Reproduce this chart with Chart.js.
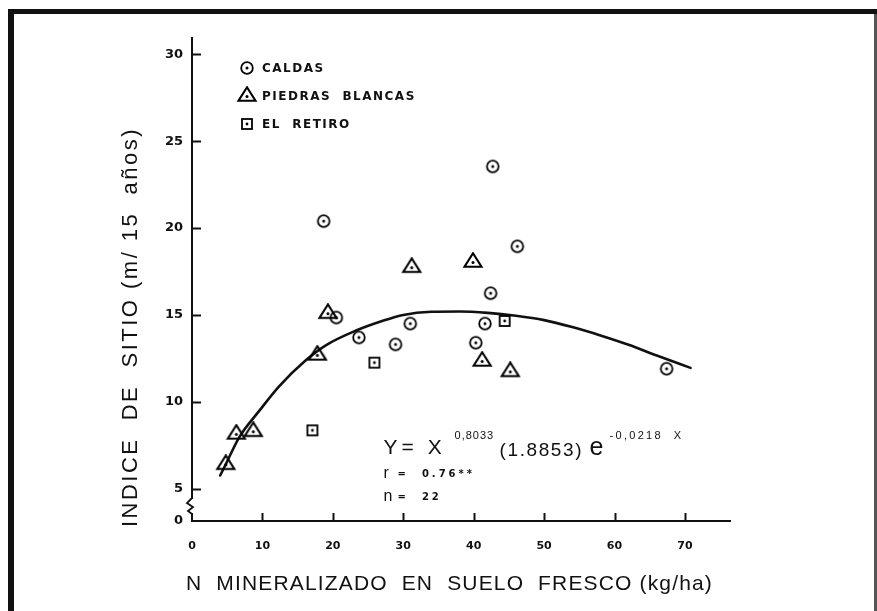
<!DOCTYPE html>
<html>
<head>
<meta charset="utf-8">
<script src="https://cdn.jsdelivr.net/npm/chart.js@4.4.1/dist/chart.umd.min.js"></script>
<style>
  html, body { margin: 0; padding: 0; background: #fff; }
  canvas { display: block; }
</style>
</head>
<body>
<canvas id="grafiek" width="877" height="611"></canvas>
<script>
// Valores: N mineralizado (kg/ha) contra indice de sitio
const caldasX = [18.7, 42.7, 46.2, 42.4, 20.5, 23.7, 28.9, 31.0, 41.6, 40.3, 67.4];
const caldasY = [20.4, 23.55, 18.95, 16.25, 14.85, 13.7, 13.3, 14.5, 14.5, 13.4, 11.9];
const piedrasX = [4.8, 6.3, 8.7, 17.8, 19.3, 31.2, 39.9, 41.2, 45.2];
const piedrasY = [6.4, 8.15, 8.3, 12.7, 15.1, 17.75, 18.05, 12.35, 11.75];
const retiroX = [17.1, 25.9, 44.4];
const retiroY = [8.35, 12.25, 14.65];

// curva ajustada, puntos tomados sobre el trazo
const curvaX = [4.0, 4.8, 6.7, 9.6, 12.4, 16.2, 19.0, 23.3, 27.0, 30.0, 34.0, 38.0, 42.0, 46.0, 50.0, 54.0, 58.0, 62.0, 66.0, 70.8];
const curvaY = [5.75, 6.4, 7.95, 9.5, 10.9, 12.4, 13.25, 14.1, 14.65, 15.0, 15.18, 15.2, 15.12, 14.95, 14.7, 14.3, 13.82, 13.28, 12.66, 11.95];

const xTicks = [0, 10, 20, 30, 40, 50, 60, 70];
const yTicks = [0, 5, 10, 15, 20, 25, 30];

const tinta = '#111';

function puntos(xs, ys) {
    return xs.map((x, i) => ({ x: x, y: ys[i] }));
}

// marcadores con punto central, como en el original
function marcador(tipo) {
    const c = document.createElement('canvas');
    const g = c.getContext('2d');
    g.strokeStyle = tinta;
    g.fillStyle = tinta;
    if (tipo === 'circulo') {
        c.width = 16; c.height = 16;
        g.lineWidth = 1.8;
        g.beginPath(); g.arc(8, 8, 5.8, 0, Math.PI * 2); g.stroke();
        g.beginPath(); g.arc(8, 8, 1.5, 0, Math.PI * 2); g.fill();
    } else if (tipo === 'triangulo') {
        c.width = 22; c.height = 20;
        g.lineWidth = 2.1;
        g.beginPath();
        g.moveTo(11, 1.3); g.lineTo(2.5, 14.8); g.lineTo(19.5, 14.8); g.closePath();
        g.stroke();
        g.beginPath(); g.arc(11, 10.4, 1.5, 0, Math.PI * 2); g.fill();
    } else {
        c.width = 14; c.height = 14;
        g.lineWidth = 1.8;
        g.strokeRect(2, 2, 10, 10);
        g.beginPath(); g.arc(7, 7, 1.4, 0, Math.PI * 2); g.fill();
    }
    return c;
}

const mCirculo = marcador('circulo');
const mTriangulo = marcador('triangulo');
const mCuadro = marcador('cuadro');

function texto(ctx, s, x, y, font, spacing) {
    ctx.font = font;
    ctx.letterSpacing = (spacing || 0) + 'px';
    ctx.fillText(s, x, y);
    return ctx.measureText(s).width;
}

function espaciado(ctx, s, font, ancho) {
    ctx.font = font;
    ctx.letterSpacing = '0px';
    return (ancho - ctx.measureText(s).width) / s.length;
}

const dibujo = {
    id: 'dibujo',
    beforeDraw(chart) {
        const { ctx, width, height } = chart;
        ctx.save();
        ctx.fillStyle = '#fff';
        ctx.fillRect(0, 0, width, height);
        ctx.fillStyle = tinta;
        ctx.fillRect(8, 9, width - 8, 5);
        ctx.fillRect(8, 9, 6, height - 9);
        ctx.fillStyle = '#555';
        ctx.fillRect(width - 3, 14, 3, height - 14);
        ctx.restore();
    },
    afterDraw(chart) {
        const { ctx, chartArea } = chart;
        const xs = chart.scales.x;
        const ys = chart.scales.y;
        const izq = chartArea.left, abajo = chartArea.bottom;
        ctx.save();
        ctx.strokeStyle = tinta;
        ctx.fillStyle = tinta;
        ctx.lineWidth = 2;

        // marcas hacia dentro
        yTicks.forEach(v => {
            if (v === 0) return;
            const y = Math.round(ys.getPixelForValue(v)) + 0.5;
            ctx.beginPath(); ctx.moveTo(izq, y); ctx.lineTo(izq + 9, y); ctx.stroke();
        });
        xTicks.forEach(v => {
            if (v === 0) return;
            const x = Math.round(xs.getPixelForValue(v)) + 0.5;
            ctx.beginPath(); ctx.moveTo(x, abajo); ctx.lineTo(x, abajo - 8); ctx.stroke();
        });

        // corte del eje y
        ctx.fillStyle = '#fff';
        ctx.fillRect(izq - 2, abajo - 22, 4, 14);
        ctx.fillStyle = tinta;
        ctx.lineWidth = 1.8;
        ctx.beginPath();
        ctx.moveTo(izq, abajo - 23);
        ctx.lineTo(izq - 5, abajo - 18);
        ctx.lineTo(izq + 1, abajo - 14);
        ctx.lineTo(izq - 4, abajo - 10);
        ctx.lineTo(izq, abajo - 7);
        ctx.stroke();

        // leyenda
        const items = [[mCirculo, 'CALDAS'], [mTriangulo, 'PIEDRAS  BLANCAS'], [mCuadro, 'EL  RETIRO']];
        ctx.textBaseline = 'middle';
        ctx.textAlign = 'left';
        items.forEach((it, i) => {
            const y = chartArea.top + 30 + i * 28;
            ctx.drawImage(it[0], izq + 55 - it[0].width / 2, y - it[0].height / 2);
            texto(ctx, it[1], izq + 70, y + 0.5, 'bold 12px "DejaVu Sans"', 1.5);
        });

        // ecuacion
        const ex = xs.getPixelForValue(27.2);
        const ey = ys.getPixelForValue(7.3);
        texto(ctx, 'Y= X', ex, ey, '21px "Liberation Sans"', 4);
        texto(ctx, '0,8033', ex + 71, ey - 13, '11px "Liberation Sans"', 1);
        texto(ctx, '(1.8853)', ex + 116, ey + 2, '19px "Liberation Sans"', 1.6);
        texto(ctx, 'e', ex + 206, ey, '25px "Liberation Sans"', 0);
        texto(ctx, '-0,0218  X', ex + 226, ey - 13, '11px "Liberation Sans"', 2.3);
        texto(ctx, 'r', ex, ey + 25, '16px "Liberation Sans"', 0);
        texto(ctx, '=  0.76**', ex + 14, ey + 26, 'bold 10px "DejaVu Sans"', 3);
        texto(ctx, 'n', ex, ey + 48, '16px "Liberation Sans"', 0);
        texto(ctx, '=  22', ex + 14, ey + 49, 'bold 10px "DejaVu Sans"', 3);

        // titulos de los ejes
        const tx = 'N  MINERALIZADO  EN  SUELO  FRESCO (kg/ha)';
        const fx = '21px "Liberation Sans"';
        texto(ctx, tx, 186, 584, fx, espaciado(ctx, tx, fx, 527));

        const ty = 'INDICE  DE  SITIO (m/ 15  años)';
        const fy = '22px "Liberation Sans"';
        const sp = espaciado(ctx, ty, fy, 400);
        ctx.translate(131, 527);
        ctx.rotate(-Math.PI / 2);
        texto(ctx, ty, 0, 0, fy, sp);
        ctx.restore();
    }
};

const fuenteTicks = { family: 'DejaVu Sans', weight: 'bold' };

new Chart(document.getElementById('grafiek'), {
    type: 'scatter',
    data: {
        datasets: [
            { label: 'CALDAS', data: puntos(caldasX, caldasY), pointStyle: mCirculo, pointRadius: 6 },
            { label: 'PIEDRAS BLANCAS', data: puntos(piedrasX, piedrasY), pointStyle: mTriangulo, pointRadius: 6 },
            { label: 'EL RETIRO', data: puntos(retiroX, retiroY), pointStyle: mCuadro, pointRadius: 6 },
            {
                label: 'ajuste', data: puntos(curvaX, curvaY), showLine: true,
                borderColor: tinta, borderWidth: 2.6, borderCapStyle: 'round',
                pointRadius: 0, cubicInterpolationMode: 'monotone', order: 5
            }
        ]
    },
    options: {
        responsive: false,
        animation: false,
        layout: { padding: { top: 38, right: 147, bottom: 0, left: 0 } },
        plugins: { legend: { display: false }, tooltip: { enabled: false } },
        scales: {
            x: {
                type: 'linear', min: 0, max: 76.4,
                afterBuildTicks: s => { s.ticks = xTicks.map(v => ({ value: v })); },
                afterFit: s => { s.height = 90; },
                grid: { display: false, drawTicks: false },
                border: { display: true, color: tinta, width: 2 },
                ticks: {
                    autoSkip: false, padding: 19, color: tinta,
                    callback: (v, i) => xTicks[i],
                    font: Object.assign({ size: 11 }, fuenteTicks)
                }
            },
            y: {
                type: 'linear', min: 3.13, max: 30.95,
                afterBuildTicks: s => { s.ticks = yTicks.map(v => ({ value: v === 0 ? s.min : v })); },
                afterFit: s => { s.width = 192; },
                grid: { display: false, drawTicks: false },
                border: { display: true, color: tinta, width: 2 },
                ticks: {
                    autoSkip: false, padding: 9, color: tinta,
                    callback: (v, i) => yTicks[i],
                    font: Object.assign({ size: 13 }, fuenteTicks)
                }
            }
        }
    },
    plugins: [dibujo]
});
</script>
</body>
</html>
